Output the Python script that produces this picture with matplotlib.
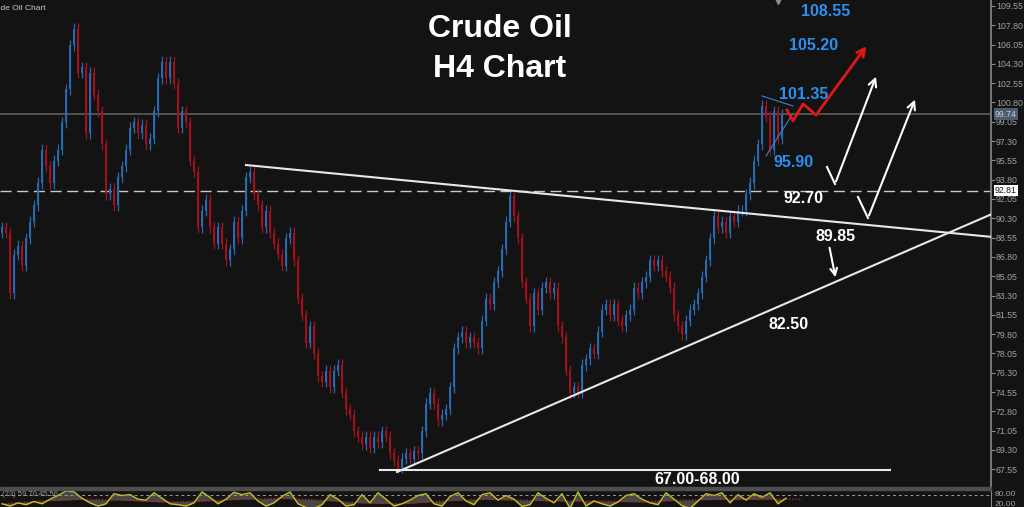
import numpy as np
import matplotlib
matplotlib.use('Agg')
import matplotlib.pyplot as plt
from matplotlib.patches import Rectangle

# H4 closes left to right (one every ~4 px)
closes = [89.5, 89.0, 83.5, 87.0, 87.8, 86.0, 88.5, 90.0, 91.5, 93.5,
          96.5, 95.0, 93.5, 95.5, 96.5, 99.0, 102.0, 106.0, 107.5, 103.5,
          104.0, 98.0, 103.5, 101.5, 100.0, 97.0, 92.5, 93.0, 91.5, 94.0,
          95.0, 96.5, 98.5, 99.0, 98.0, 98.8, 97.0, 97.5, 100.0, 103.0,
          104.5, 103.0, 104.5, 102.5, 98.5, 100.0, 99.0, 95.5, 94.5, 89.5,
          91.0, 92.0, 89.5, 88.0, 89.5, 88.0, 86.5, 87.5, 90.0, 88.5,
          91.0, 94.0, 94.5, 92.5, 91.5, 89.5, 91.0, 89.0, 88.0, 87.0,
          86.0, 88.5, 89.0, 86.5, 83.0, 81.5, 79.0, 80.5, 78.0, 76.0,
          75.5, 76.5, 75.0, 76.5, 77.0, 74.5, 73.0, 72.5, 71.0, 70.5,
          69.8, 70.5, 69.5, 70.5, 70.0, 71.0, 70.5, 69.0, 68.3, 67.7,
          68.5, 69.0, 68.5, 69.2, 69.0, 71.0, 73.5, 74.5, 73.5, 72.0,
          72.5, 73.0, 75.0, 78.5, 79.5, 80.0, 79.0, 79.5, 79.0, 78.5,
          81.0, 83.0, 82.5, 84.5, 85.5, 87.5, 90.0, 92.3, 90.5, 88.5,
          84.5, 83.0, 80.5, 83.5, 82.0, 84.0, 84.5, 83.5, 84.0, 80.5,
          79.5, 76.5, 74.5, 75.0, 74.5, 77.0, 77.5, 78.5, 78.0, 80.0,
          82.0, 82.5, 81.5, 82.5, 81.0, 80.5, 81.5, 82.0, 84.0, 83.5,
          84.5, 85.0, 86.5, 86.0, 86.5, 85.5, 85.0, 84.0, 81.5, 80.5,
          79.8, 81.0, 82.0, 82.5, 83.5, 85.0, 86.5, 88.5, 90.5, 89.5,
          90.0, 89.0, 90.5, 90.0, 91.0, 91.0, 92.5, 93.5, 95.5, 97.0,
          100.5, 99.5, 96.5, 100.0, 97.5, 99.7]
first_open = 89.0

# oscillator panel (one value every ~8 px) and its slow line (every ~40 px)
osc = [60, 55, 62, 58, 65, 60, 70, 78, 88, 86, 72, 62, 55, 60, 82, 78, 80, 70, 68, 84,
       72, 60, 58, 55, 62, 86, 74, 60, 70, 85, 80, 84, 66, 55, 62, 76, 86, 60, 52, 50,
       58, 80, 70, 55, 58, 80, 62, 84, 70, 55, 60, 68, 78, 82, 60, 55, 76, 84, 66, 58,
       80, 84, 68, 78, 70, 54, 58, 84, 72, 62, 82, 50, 86, 55, 66, 60, 55, 64, 78, 82,
       70, 62, 58, 84, 70, 56, 50, 66, 82, 78, 84, 62, 80, 68, 82, 74, 84, 60, 72]
osc_slow = [60, 66, 70, 68, 64, 66, 70, 72, 68, 62, 60, 66, 70, 68, 66, 66, 64, 68, 70, 70, 70]

y_ticks = np.arange(67.55, 109.56, 1.75)
last_price = 99.74
bid_level = 92.81
blue_levels = ['108.55', '105.20', '101.35', '95.90']
white_levels = ['92.70', '89.85', '82.50', '67.00-68.00']

bg = '#131313'
up_col = '#2a68b0'
dn_col = '#a3121a'
lab_blue = '#2b8ff0'

fig = plt.figure(figsize=(10.24, 5.07), dpi=100, facecolor=bg)
ax = fig.add_axes([0, 20/507, 991/1024, 487/507], facecolor=bg)

# candles
x = np.arange(len(closes))
opens = np.r_[first_open, closes[:-1]]
closes_a = np.array(closes)
hi = np.maximum(opens, closes_a) + 0.5
lo = np.minimum(opens, closes_a) - 0.5
cols = np.where(closes_a >= opens, up_col, dn_col)
ax.vlines(x, lo, hi, color=cols, lw=0.9, zorder=3)
ax.bar(x, closes_a - opens, bottom=opens, width=0.7, color=cols, zorder=3)

ax.set_xlim(-0.5, 247.25)
ax.set_ylim(65.94, 110.09)

# price lines
ax.axhline(last_price, color='#5e5e5e', lw=1.2, zorder=2)
ax.axhline(bid_level, color='#c8c8c8', lw=1.0, ls=(0, (8, 4)), zorder=2)

# trend lines
ax.plot([61, 247.5], [95.13, 88.61], color='#e8e8e8', lw=1.5, zorder=4)
ax.plot([98.75, 247.5], [67.30, 90.69], color='#e8e8e8', lw=1.5, zorder=4)
ax.plot([94.5, 222], [67.48, 67.48], color='#e8e8e8', lw=1.5, zorder=4)

# pennant
ax.plot([190, 197.75], [101.39, 100.48], color='#3a80d8', lw=0.8, zorder=4)
ax.plot([191, 197.5], [95.95, 99.67], color='#3a80d8', lw=0.8, zorder=4)

# projected path
ax.plot([196.25, 197.75, 200.25, 203.5], [100.12, 99.12, 100.67, 99.67], color='#e01818', lw=2, zorder=5)
ax.annotate('', xy=(216.5, 106.11), xytext=(203.5, 99.67),
            arrowprops=dict(arrowstyle='->', color='#e01818', lw=2, mutation_scale=14), zorder=5)

# white scenario arrows
ax.plot([206.25, 208.25], [94.95, 93.41], color='white', lw=1.5, zorder=5)
ax.annotate('', xy=(218.75, 103.38), xytext=(208.25, 93.41),
            arrowprops=dict(arrowstyle='->', color='white', lw=1.5, mutation_scale=14))
ax.plot([214, 216.5], [92.23, 90.33], color='white', lw=1.5, zorder=5)
ax.annotate('', xy=(228.5, 101.3), xytext=(216.5, 90.33),
            arrowprops=dict(arrowstyle='->', color='white', lw=1.5, mutation_scale=14))
ax.annotate('', xy=(208.5, 84.71), xytext=(206.75, 87.88),
            arrowprops=dict(arrowstyle='->', color='white', lw=1.5, mutation_scale=12))

# level labels
lab_font = dict(family='Liberation Sans', weight='bold', fontsize=11.5, ha='center', va='center', zorder=6)
for txt, pos in zip(blue_levels, [(206, 109.01), (203, 106.01), (200.5, 101.48), (198, 95.32)]):
    ax.text(pos[0], pos[1], txt, color=lab_blue, **lab_font)
for txt, pos in zip(white_levels, [(200.25, 92.05), (208.5, 88.61), (196.75, 80.63), (173.75, 66.58)]):
    ax.text(pos[0], pos[1], txt, color='white', **lab_font)

ax.plot([194], [110.0], marker='v', color='#8a8a8a', ms=5, zorder=6, clip_on=False)

# right price axis
ax.yaxis.tick_right()
ax.set_yticks(y_ticks)
ax.set_yticklabels(['%.2f' % v for v in y_ticks], fontsize=6.3, color='#a0a0a0', family='Liberation Sans')
ax.tick_params(axis='y', length=3, width=0.8, color='#8a8a8a', pad=0.5)
ax.set_xticks([])
for s in ['top', 'left', 'bottom']:
    ax.spines[s].set_visible(False)
ax.spines['right'].set_color('#8a8a8a')
ax.spines['right'].set_linewidth(1.2)

# current price boxes
ax.text(1.004, last_price, '%.2f' % last_price, transform=ax.get_yaxis_transform(), fontsize=6.3,
        color='#c8d0d8', family='Liberation Sans', va='center', ha='left',
        bbox=dict(boxstyle='square,pad=0.15', fc='#4c5c6e', ec='none'), zorder=7, clip_on=False)
ax.text(1.004, bid_level, '%.2f' % bid_level, transform=ax.get_yaxis_transform(), fontsize=6.3,
        color='#111111', family='Liberation Sans', va='center', ha='left',
        bbox=dict(boxstyle='square,pad=0.15', fc='white', ec='none'), zorder=7, clip_on=False)

# titles
fig.text(500/1024, 1 - 29/507, 'Crude Oil', color='white', fontsize=23, weight='bold',
         family='Liberation Sans', ha='center', va='center')
fig.text(500/1024, 1 - 69/507, 'H4 Chart', color='white', fontsize=23, weight='bold',
         family='Liberation Sans', ha='center', va='center')
fig.text(-13/1024, 1 - 8/507, 'Crude Oil Chart', color='#c8c8c8', fontsize=6,
         family='Liberation Sans', ha='left', va='center')

# separator between panels
fig.patches.append(Rectangle((0, 17/507), 991/1024, 3/507, transform=fig.transFigure,
                             color='#4e4e4e', zorder=1))

# oscillator panel
ax2 = fig.add_axes([0, 0, 991/1024, 17/507], facecolor=bg)
xo = np.arange(len(osc)) * 2.0
xs = np.arange(len(osc_slow)) * 10.0
slow_i = np.interp(xo, xs, osc_slow)
ax2.fill_between(xo, osc, slow_i, color='#6a6a6a', alpha=0.6, lw=0)
ax2.plot(xs, osc_slow, color='#d02020', lw=0.9, ls=(0, (1, 1.5)))
ax2.plot(xo, osc, color='#c8c020', lw=1.0)
ax2.axhline(80, color='#9a9a9a', lw=0.7, ls=(0, (3, 3)))
ax2.set_xlim(-0.5, 247.25)
ax2.set_ylim(53, 90)
ax2.set_xticks([])
ax2.set_yticks([])
for s in ['top', 'left', 'bottom']:
    ax2.spines[s].set_visible(False)
ax2.spines['right'].set_color('#8a8a8a')
ax2.text(0.002, 80, '(23) 59.70 45.56', transform=ax2.get_yaxis_transform(), fontsize=5.5,
         color='#9a9a9a', family='Liberation Sans', va='center')
ax2.text(1.004, 80, '80.00', transform=ax2.get_yaxis_transform(), fontsize=6,
         color='#a0a0a0', family='Liberation Sans', va='center', clip_on=False)
ax2.text(1.004, 58, '20.00', transform=ax2.get_yaxis_transform(), fontsize=6,
         color='#a0a0a0', family='Liberation Sans', va='center', clip_on=False)

fig.savefig('out.png', dpi=100, facecolor=bg)
